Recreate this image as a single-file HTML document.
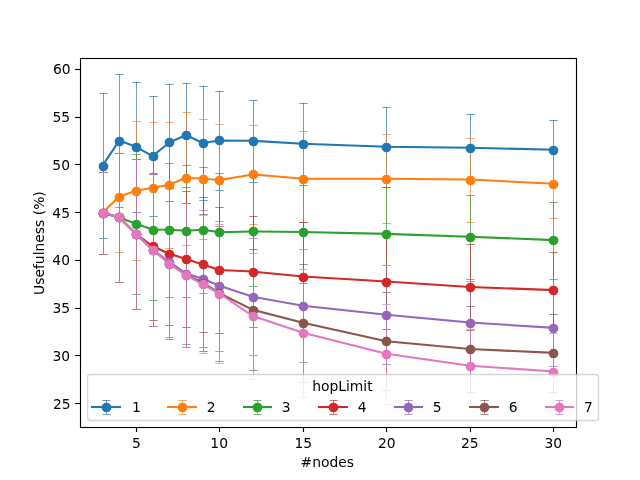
<!DOCTYPE html>
<html lang="en"><head><meta charset="utf-8"><title>Usefulness vs #nodes by hopLimit</title>
<style>html,body{margin:0;padding:0;background:#fff}body{width:640px;height:480px;overflow:hidden}svg{display:block;will-change:transform}svg text{filter:grayscale(1)}</style>
</head><body>
<svg width="640" height="480" viewBox="0 0 640 480">
<rect width="640" height="480" fill="#fff"/>
<g stroke="#000" stroke-width="1.11" fill="none">
<path d="M136.5 427.2 v4.86"/>
<path d="M219.5 427.2 v4.86"/>
<path d="M303.5 427.2 v4.86"/>
<path d="M386.5 427.2 v4.86"/>
<path d="M470.5 427.2 v4.86"/>
<path d="M553.5 427.2 v4.86"/>
<path d="M80 403.5 h-4.86"/>
<path d="M80 355.5 h-4.86"/>
<path d="M80 308.5 h-4.86"/>
<path d="M80 260.5 h-4.86"/>
<path d="M80 212.5 h-4.86"/>
<path d="M80 164.5 h-4.86"/>
<path d="M80 117.5 h-4.86"/>
<path d="M80 69.5 h-4.86"/>
</g>
<g font-family="DejaVu Sans, Liberation Sans, sans-serif" font-size="13.889" fill="#000">
<text x="136.33" y="448.48" text-anchor="middle">5</text>
<text x="219.18" y="448.48" text-anchor="middle">10</text>
<text x="303.22" y="448.48" text-anchor="middle">15</text>
<text x="386.72" y="448.48" text-anchor="middle">20</text>
<text x="469.72" y="448.48" text-anchor="middle">25</text>
<text x="553.28" y="448.48" text-anchor="middle">30</text>
<text x="70.56" y="409.37" text-anchor="end">25</text>
<text x="70.11" y="360.65" text-anchor="end">30</text>
<text x="70.14" y="312.92" text-anchor="end">35</text>
<text x="69.99" y="265.19" text-anchor="end">40</text>
<text x="70.03" y="218.46" text-anchor="end">45</text>
<text x="70" y="169.73" text-anchor="end">50</text>
<text x="70.04" y="122" text-anchor="end">55</text>
<text x="70.68" y="74.27" text-anchor="end">60</text>
<text x="327.25" y="467.47" text-anchor="middle">#nodes</text>
<text x="44.16" y="243.1" text-anchor="middle" transform="rotate(-90 44.16 243.1)">Usefulness (%)</text>
</g>
<path d="M103.5 93.05V237.96M119.5 74.4V206.78M136.5 81.79V211.8M153.5 95.82V216.29M169.5 84.08V200.92M186.5 82.84V187.27M203.5 86.08V199.87M219.5 90.76V190.23M253.5 100.02V181.54M303.5 102.79V184.69M386.5 106.8V186.79M470.5 113.77V181.73M553.5 119.78V182.69M99.33 238.5h8.33M99.33 93.5h8.33M115.33 207.5h8.33M115.33 74.5h8.33M132.33 212.5h8.33M132.33 82.5h8.33M149.33 216.5h8.33M149.33 96.5h8.33M165.33 201.5h8.33M165.33 84.5h8.33M182.33 187.5h8.33M182.33 83.5h8.33M199.33 200.5h8.33M199.33 86.5h8.33M215.33 190.5h8.33M215.33 91.5h8.33M249.33 182.5h8.33M249.33 100.5h8.33M299.33 185.5h8.33M299.33 103.5h8.33M382.33 187.5h8.33M382.33 107.5h8.33M466.33 182.5h8.33M466.33 114.5h8.33M549.33 183.5h8.33M549.33 120.5h8.33" stroke="#3072a0" stroke-width="0.69" fill="none"/>
<path d="M103.5 171.71V253.61M119.5 141.07V251.99M136.5 121.02V260.39M153.5 122.07V253.42M169.5 121.98V247.6M186.5 112.05V245.02M203.5 119.02V238.53M219.5 123.79V232.99M253.5 124.55V224.4M303.5 130.57V221.92M386.5 134.39V223.16M470.5 138.01V221.63M553.5 149.56V217.91M99.33 254.5h8.33M99.33 172.5h8.33M115.33 252.5h8.33M115.33 141.5h8.33M132.33 260.5h8.33M132.33 121.5h8.33M149.33 253.5h8.33M149.33 122.5h8.33M165.33 248.5h8.33M165.33 122.5h8.33M182.33 245.5h8.33M182.33 112.5h8.33M199.33 239.5h8.33M199.33 119.5h8.33M215.33 233.5h8.33M215.33 124.5h8.33M249.33 224.5h8.33M249.33 125.5h8.33M299.33 222.5h8.33M299.33 131.5h8.33M382.33 223.5h8.33M382.33 134.5h8.33M466.33 222.5h8.33M466.33 138.5h8.33M549.33 218.5h8.33M549.33 150.5h8.33" stroke="#e58531" stroke-width="0.69" fill="none"/>
<path d="M103.5 171.71V253.61M119.5 152.81V282.06M136.5 153.86V293.8M153.5 158.92V300.19M169.5 162.83V296.66M186.5 164.84V296.76M203.5 166.75V292.75M219.5 173.05V291.41M253.5 176.48V286.45M303.5 181.25V282.82M386.5 187.08V280.63M470.5 195V278.62M553.5 201.59V278.53M99.33 254.5h8.33M99.33 172.5h8.33M115.33 282.5h8.33M115.33 153.5h8.33M132.33 294.5h8.33M132.33 154.5h8.33M149.33 300.5h8.33M149.33 159.5h8.33M165.33 297.5h8.33M165.33 163.5h8.33M182.33 297.5h8.33M182.33 165.5h8.33M199.33 293.5h8.33M199.33 167.5h8.33M215.33 291.5h8.33M215.33 173.5h8.33M249.33 286.5h8.33M249.33 176.5h8.33M299.33 283.5h8.33M299.33 181.5h8.33M382.33 281.5h8.33M382.33 187.5h8.33M466.33 279.5h8.33M466.33 195.5h8.33M549.33 279.5h8.33M549.33 202.5h8.33" stroke="#3d943d" stroke-width="0.69" fill="none"/>
<path d="M103.5 171.71V253.61M119.5 152.81V282.06M136.5 159.01V308.69M153.5 172.76V319.76M169.5 182.59V324.82M186.5 191.09V326.83M203.5 196.81V331.98M219.5 207.12V332.75M253.5 216.1V327.02M303.5 222.11V330.93M386.5 233.66V329.5M470.5 243.59V330.45M553.5 252.08V328.07M99.33 254.5h8.33M99.33 172.5h8.33M115.33 282.5h8.33M115.33 153.5h8.33M132.33 309.5h8.33M132.33 159.5h8.33M149.33 320.5h8.33M149.33 173.5h8.33M165.33 325.5h8.33M165.33 183.5h8.33M182.33 327.5h8.33M182.33 191.5h8.33M199.33 332.5h8.33M199.33 197.5h8.33M215.33 333.5h8.33M215.33 207.5h8.33M249.33 327.5h8.33M249.33 216.5h8.33M299.33 331.5h8.33M299.33 222.5h8.33M382.33 329.5h8.33M382.33 234.5h8.33M466.33 330.5h8.33M466.33 244.5h8.33M549.33 328.5h8.33M549.33 252.5h8.33" stroke="#b73435" stroke-width="0.69" fill="none"/>
<path d="M103.5 171.71V253.61M119.5 152.81V282.06M136.5 159.01V308.69M153.5 173.81V325.78M169.5 186.79V336.85M186.5 203.02V344.1M203.5 210.18V347.45M219.5 220.58V350.98M253.5 238.34V355.18M303.5 249.22V362.43M386.5 265.16V364.44M470.5 281.48V363.58M553.5 289.79V365.77M99.33 254.5h8.33M99.33 172.5h8.33M115.33 282.5h8.33M115.33 153.5h8.33M132.33 309.5h8.33M132.33 159.5h8.33M149.33 326.5h8.33M149.33 174.5h8.33M165.33 337.5h8.33M165.33 187.5h8.33M182.33 344.5h8.33M182.33 203.5h8.33M199.33 347.5h8.33M199.33 210.5h8.33M215.33 351.5h8.33M215.33 221.5h8.33M249.33 355.5h8.33M249.33 238.5h8.33M299.33 362.5h8.33M299.33 249.5h8.33M382.33 364.5h8.33M382.33 265.5h8.33M466.33 364.5h8.33M466.33 281.5h8.33M549.33 366.5h8.33M549.33 290.5h8.33" stroke="#8f6dad" stroke-width="0.69" fill="none"/>
<path d="M103.5 171.71V253.61M119.5 152.81V282.06M136.5 159.01V308.69M153.5 173.81V325.78M169.5 188.32V338.76M186.5 203.02V346.97M203.5 214V351.07M219.5 225.64V360.81M253.5 249.32V370.36M303.5 264.11V381.52M386.5 292.08V390.4M470.5 305.83V392.31M553.5 313.75V391.83M99.33 254.5h8.33M99.33 172.5h8.33M115.33 282.5h8.33M115.33 153.5h8.33M132.33 309.5h8.33M132.33 159.5h8.33M149.33 326.5h8.33M149.33 174.5h8.33M165.33 339.5h8.33M165.33 188.5h8.33M182.33 347.5h8.33M182.33 203.5h8.33M199.33 351.5h8.33M199.33 214.5h8.33M215.33 361.5h8.33M215.33 226.5h8.33M249.33 370.5h8.33M249.33 249.5h8.33M299.33 382.5h8.33M299.33 264.5h8.33M382.33 390.5h8.33M382.33 292.5h8.33M466.33 392.5h8.33M466.33 306.5h8.33M549.33 392.5h8.33M549.33 314.5h8.33" stroke="#825a51" stroke-width="0.69" fill="none"/>
<path d="M103.5 171.71V253.61M119.5 152.81V282.06M136.5 159.01V308.69M153.5 173.81V325.78M169.5 188.32V338.76M186.5 203.11V347.06M203.5 215.24V353.46M219.5 224.02V363.01M253.5 252.85V379.23M303.5 268.79V396.7M386.5 303.73V403.77M470.5 328.55V403M553.5 332.6V410.4M99.33 254.5h8.33M99.33 172.5h8.33M115.33 282.5h8.33M115.33 153.5h8.33M132.33 309.5h8.33M132.33 159.5h8.33M149.33 326.5h8.33M149.33 174.5h8.33M165.33 339.5h8.33M165.33 188.5h8.33M182.33 347.5h8.33M182.33 203.5h8.33M199.33 353.5h8.33M199.33 215.5h8.33M215.33 363.5h8.33M215.33 224.5h8.33M249.33 379.5h8.33M249.33 253.5h8.33M299.33 397.5h8.33M299.33 269.5h8.33M382.33 404.5h8.33M382.33 304.5h8.33M466.33 403.5h8.33M466.33 329.5h8.33M549.33 410.5h8.33M549.33 333.5h8.33" stroke="#d281b9" stroke-width="0.69" fill="none"/>
<g fill="#1f77b4" stroke="#1f77b4">
<path d="M102.55 165.5L119.25 140.59L135.95 146.79L152.65 156.05L169.35 142.5L186.05 135.05L202.75 142.98L219.45 140.49L252.85 140.78L302.95 143.74L386.45 146.79L469.95 147.75L553.45 149.75" fill="none" stroke-width="2.08" stroke-linecap="square" stroke-linejoin="round"/>
<circle cx="103.5" cy="166.5" r="4.17" stroke-width="1.39"/>
<circle cx="119.5" cy="141.5" r="4.17" stroke-width="1.39"/>
<circle cx="136.5" cy="147.5" r="4.17" stroke-width="1.39"/>
<circle cx="153.5" cy="156.5" r="4.17" stroke-width="1.39"/>
<circle cx="169.5" cy="142.5" r="4.17" stroke-width="1.39"/>
<circle cx="186.5" cy="135.5" r="4.17" stroke-width="1.39"/>
<circle cx="203.5" cy="143.5" r="4.17" stroke-width="1.39"/>
<circle cx="219.5" cy="140.5" r="4.17" stroke-width="1.39"/>
<circle cx="253.5" cy="141.5" r="4.17" stroke-width="1.39"/>
<circle cx="303.5" cy="144.5" r="4.17" stroke-width="1.39"/>
<circle cx="386.5" cy="147.5" r="4.17" stroke-width="1.39"/>
<circle cx="470.5" cy="148.5" r="4.17" stroke-width="1.39"/>
<circle cx="553.5" cy="150.5" r="4.17" stroke-width="1.39"/>
</g>
<g fill="#ff7f0e" stroke="#ff7f0e">
<path d="M102.55 212.66L119.25 196.53L135.95 190.71L152.65 187.75L169.35 184.79L186.05 177.72L202.75 178.77L219.45 180.01L252.85 174.48L302.95 178.77L386.45 178.77L469.95 179.54L553.45 183.74" fill="none" stroke-width="2.08" stroke-linecap="square" stroke-linejoin="round"/>
<circle cx="103.5" cy="213.5" r="4.17" stroke-width="1.39"/>
<circle cx="119.5" cy="197.5" r="4.17" stroke-width="1.39"/>
<circle cx="136.5" cy="191.5" r="4.17" stroke-width="1.39"/>
<circle cx="153.5" cy="188.5" r="4.17" stroke-width="1.39"/>
<circle cx="169.5" cy="185.5" r="4.17" stroke-width="1.39"/>
<circle cx="186.5" cy="178.5" r="4.17" stroke-width="1.39"/>
<circle cx="203.5" cy="179.5" r="4.17" stroke-width="1.39"/>
<circle cx="219.5" cy="180.5" r="4.17" stroke-width="1.39"/>
<circle cx="253.5" cy="174.5" r="4.17" stroke-width="1.39"/>
<circle cx="303.5" cy="179.5" r="4.17" stroke-width="1.39"/>
<circle cx="386.5" cy="179.5" r="4.17" stroke-width="1.39"/>
<circle cx="470.5" cy="180.5" r="4.17" stroke-width="1.39"/>
<circle cx="553.5" cy="184.5" r="4.17" stroke-width="1.39"/>
</g>
<g fill="#2ca02c" stroke="#2ca02c">
<path d="M102.55 212.66L119.25 217.43L135.95 223.83L152.65 229.56L169.35 229.75L186.05 230.8L202.75 229.75L219.45 232.23L252.85 231.47L302.95 232.04L386.45 233.85L469.95 236.81L553.45 240.06" fill="none" stroke-width="2.08" stroke-linecap="square" stroke-linejoin="round"/>
<circle cx="103.5" cy="213.5" r="4.17" stroke-width="1.39"/>
<circle cx="119.5" cy="217.5" r="4.17" stroke-width="1.39"/>
<circle cx="136.5" cy="224.5" r="4.17" stroke-width="1.39"/>
<circle cx="153.5" cy="230.5" r="4.17" stroke-width="1.39"/>
<circle cx="169.5" cy="230.5" r="4.17" stroke-width="1.39"/>
<circle cx="186.5" cy="231.5" r="4.17" stroke-width="1.39"/>
<circle cx="203.5" cy="230.5" r="4.17" stroke-width="1.39"/>
<circle cx="219.5" cy="232.5" r="4.17" stroke-width="1.39"/>
<circle cx="253.5" cy="231.5" r="4.17" stroke-width="1.39"/>
<circle cx="303.5" cy="232.5" r="4.17" stroke-width="1.39"/>
<circle cx="386.5" cy="234.5" r="4.17" stroke-width="1.39"/>
<circle cx="470.5" cy="237.5" r="4.17" stroke-width="1.39"/>
<circle cx="553.5" cy="240.5" r="4.17" stroke-width="1.39"/>
</g>
<g fill="#d62728" stroke="#d62728">
<path d="M102.55 212.66L119.25 217.43L135.95 233.85L152.65 246.26L169.35 253.71L186.05 258.96L202.75 264.4L219.45 269.93L252.85 271.56L302.95 276.52L386.45 281.58L469.95 287.02L553.45 290.08" fill="none" stroke-width="2.08" stroke-linecap="square" stroke-linejoin="round"/>
<circle cx="103.5" cy="213.5" r="4.17" stroke-width="1.39"/>
<circle cx="119.5" cy="217.5" r="4.17" stroke-width="1.39"/>
<circle cx="136.5" cy="234.5" r="4.17" stroke-width="1.39"/>
<circle cx="153.5" cy="246.5" r="4.17" stroke-width="1.39"/>
<circle cx="169.5" cy="254.5" r="4.17" stroke-width="1.39"/>
<circle cx="186.5" cy="259.5" r="4.17" stroke-width="1.39"/>
<circle cx="203.5" cy="264.5" r="4.17" stroke-width="1.39"/>
<circle cx="219.5" cy="270.5" r="4.17" stroke-width="1.39"/>
<circle cx="253.5" cy="272.5" r="4.17" stroke-width="1.39"/>
<circle cx="303.5" cy="277.5" r="4.17" stroke-width="1.39"/>
<circle cx="386.5" cy="282.5" r="4.17" stroke-width="1.39"/>
<circle cx="470.5" cy="287.5" r="4.17" stroke-width="1.39"/>
<circle cx="553.5" cy="290.5" r="4.17" stroke-width="1.39"/>
</g>
<g fill="#9467bd" stroke="#9467bd">
<path d="M102.55 212.66L119.25 217.43L135.95 233.85L152.65 249.79L169.35 261.82L186.05 273.56L202.75 278.81L219.45 285.78L252.85 296.76L302.95 305.83L386.45 314.8L469.95 322.53L553.45 327.78" fill="none" stroke-width="2.08" stroke-linecap="square" stroke-linejoin="round"/>
<circle cx="103.5" cy="213.5" r="4.17" stroke-width="1.39"/>
<circle cx="119.5" cy="217.5" r="4.17" stroke-width="1.39"/>
<circle cx="136.5" cy="234.5" r="4.17" stroke-width="1.39"/>
<circle cx="153.5" cy="250.5" r="4.17" stroke-width="1.39"/>
<circle cx="169.5" cy="262.5" r="4.17" stroke-width="1.39"/>
<circle cx="186.5" cy="274.5" r="4.17" stroke-width="1.39"/>
<circle cx="203.5" cy="279.5" r="4.17" stroke-width="1.39"/>
<circle cx="219.5" cy="286.5" r="4.17" stroke-width="1.39"/>
<circle cx="253.5" cy="297.5" r="4.17" stroke-width="1.39"/>
<circle cx="303.5" cy="306.5" r="4.17" stroke-width="1.39"/>
<circle cx="386.5" cy="315.5" r="4.17" stroke-width="1.39"/>
<circle cx="470.5" cy="323.5" r="4.17" stroke-width="1.39"/>
<circle cx="553.5" cy="328.5" r="4.17" stroke-width="1.39"/>
</g>
<g fill="#8c564b" stroke="#8c564b">
<path d="M102.55 212.66L119.25 217.43L135.95 233.85L152.65 249.79L169.35 263.54L186.05 274.99L202.75 282.54L219.45 293.23L252.85 309.84L302.95 322.82L386.45 341.24L469.95 349.07L553.45 352.79" fill="none" stroke-width="2.08" stroke-linecap="square" stroke-linejoin="round"/>
<circle cx="103.5" cy="213.5" r="4.17" stroke-width="1.39"/>
<circle cx="119.5" cy="217.5" r="4.17" stroke-width="1.39"/>
<circle cx="136.5" cy="234.5" r="4.17" stroke-width="1.39"/>
<circle cx="153.5" cy="250.5" r="4.17" stroke-width="1.39"/>
<circle cx="169.5" cy="264.5" r="4.17" stroke-width="1.39"/>
<circle cx="186.5" cy="275.5" r="4.17" stroke-width="1.39"/>
<circle cx="203.5" cy="283.5" r="4.17" stroke-width="1.39"/>
<circle cx="219.5" cy="293.5" r="4.17" stroke-width="1.39"/>
<circle cx="253.5" cy="310.5" r="4.17" stroke-width="1.39"/>
<circle cx="303.5" cy="323.5" r="4.17" stroke-width="1.39"/>
<circle cx="386.5" cy="341.5" r="4.17" stroke-width="1.39"/>
<circle cx="470.5" cy="349.5" r="4.17" stroke-width="1.39"/>
<circle cx="553.5" cy="353.5" r="4.17" stroke-width="1.39"/>
</g>
<g fill="#e377c2" stroke="#e377c2">
<path d="M102.55 212.66L119.25 217.43L135.95 233.85L152.65 249.79L169.35 263.54L186.05 275.09L202.75 284.35L219.45 293.51L252.85 316.04L302.95 332.75L386.45 353.75L469.95 365.77L553.45 371.5" fill="none" stroke-width="2.08" stroke-linecap="square" stroke-linejoin="round"/>
<circle cx="103.5" cy="213.5" r="4.17" stroke-width="1.39"/>
<circle cx="119.5" cy="217.5" r="4.17" stroke-width="1.39"/>
<circle cx="136.5" cy="234.5" r="4.17" stroke-width="1.39"/>
<circle cx="153.5" cy="250.5" r="4.17" stroke-width="1.39"/>
<circle cx="169.5" cy="264.5" r="4.17" stroke-width="1.39"/>
<circle cx="186.5" cy="275.5" r="4.17" stroke-width="1.39"/>
<circle cx="203.5" cy="284.5" r="4.17" stroke-width="1.39"/>
<circle cx="219.5" cy="294.5" r="4.17" stroke-width="1.39"/>
<circle cx="253.5" cy="316.5" r="4.17" stroke-width="1.39"/>
<circle cx="303.5" cy="333.5" r="4.17" stroke-width="1.39"/>
<circle cx="386.5" cy="354.5" r="4.17" stroke-width="1.39"/>
<circle cx="470.5" cy="366.5" r="4.17" stroke-width="1.39"/>
<circle cx="553.5" cy="372.5" r="4.17" stroke-width="1.39"/>
</g>
<rect x="80.5" y="58.5" width="496" height="369" fill="none" stroke="#000" stroke-width="1.11" stroke-linejoin="miter"/>
<rect x="87.5" y="374.5" width="511" height="46" rx="2.78" fill="#fff" stroke="#ccc" stroke-width="1.39" opacity="0.8"/>
<g font-family="DejaVu Sans, Liberation Sans, sans-serif" font-size="13.889" fill="#000">
<text x="312.13" y="391.43">hopLimit</text>
<text x="131.91" y="411.81">1</text>
<text x="206.78" y="411.81">2</text>
<text x="281.87" y="411.81">3</text>
<text x="357.84" y="411.81">4</text>
<text x="432.78" y="411.81">5</text>
<text x="508.87" y="411.81">6</text>
<text x="583.88" y="411.81">7</text>
</g>
<g fill="#1f77b4" stroke="#1f77b4">
<path d="M106.5 400.01V413.89M102.33 400.5h8.33M102.33 414.5h8.33" fill="none" stroke="#3072a0" stroke-width="0.69"/>
<path d="M92 407H120" fill="none" stroke-width="2.08" stroke-linecap="square"/>
<circle cx="106.5" cy="407.5" r="4.17" stroke-width="1.39"/>
</g>
<g fill="#ff7f0e" stroke="#ff7f0e">
<path d="M182.5 400.01V413.89M178.33 400.5h8.33M178.33 414.5h8.33" fill="none" stroke="#e58531" stroke-width="0.69"/>
<path d="M168 407H196" fill="none" stroke-width="2.08" stroke-linecap="square"/>
<circle cx="182.5" cy="407.5" r="4.17" stroke-width="1.39"/>
</g>
<g fill="#2ca02c" stroke="#2ca02c">
<path d="M257.5 400.01V413.89M253.33 400.5h8.33M253.33 414.5h8.33" fill="none" stroke="#3d943d" stroke-width="0.69"/>
<path d="M244 407H271" fill="none" stroke-width="2.08" stroke-linecap="square"/>
<circle cx="257.5" cy="407.5" r="4.17" stroke-width="1.39"/>
</g>
<g fill="#d62728" stroke="#d62728">
<path d="M333.5 400.01V413.89M329.33 400.5h8.33M329.33 414.5h8.33" fill="none" stroke="#b73435" stroke-width="0.69"/>
<path d="M319 407H347" fill="none" stroke-width="2.08" stroke-linecap="square"/>
<circle cx="333.5" cy="407.5" r="4.17" stroke-width="1.39"/>
</g>
<g fill="#9467bd" stroke="#9467bd">
<path d="M408.5 400.01V413.89M404.33 400.5h8.33M404.33 414.5h8.33" fill="none" stroke="#8f6dad" stroke-width="0.69"/>
<path d="M395 407H422" fill="none" stroke-width="2.08" stroke-linecap="square"/>
<circle cx="408.5" cy="407.5" r="4.17" stroke-width="1.39"/>
</g>
<g fill="#8c564b" stroke="#8c564b">
<path d="M484.5 400.01V413.89M480.33 400.5h8.33M480.33 414.5h8.33" fill="none" stroke="#825a51" stroke-width="0.69"/>
<path d="M470 407H498" fill="none" stroke-width="2.08" stroke-linecap="square"/>
<circle cx="484.5" cy="407.5" r="4.17" stroke-width="1.39"/>
</g>
<g fill="#e377c2" stroke="#e377c2">
<path d="M559.5 400.01V413.89M555.33 400.5h8.33M555.33 414.5h8.33" fill="none" stroke="#d281b9" stroke-width="0.69"/>
<path d="M546 407H573" fill="none" stroke-width="2.08" stroke-linecap="square"/>
<circle cx="559.5" cy="407.5" r="4.17" stroke-width="1.39"/>
</g>
</svg>
</body></html>
